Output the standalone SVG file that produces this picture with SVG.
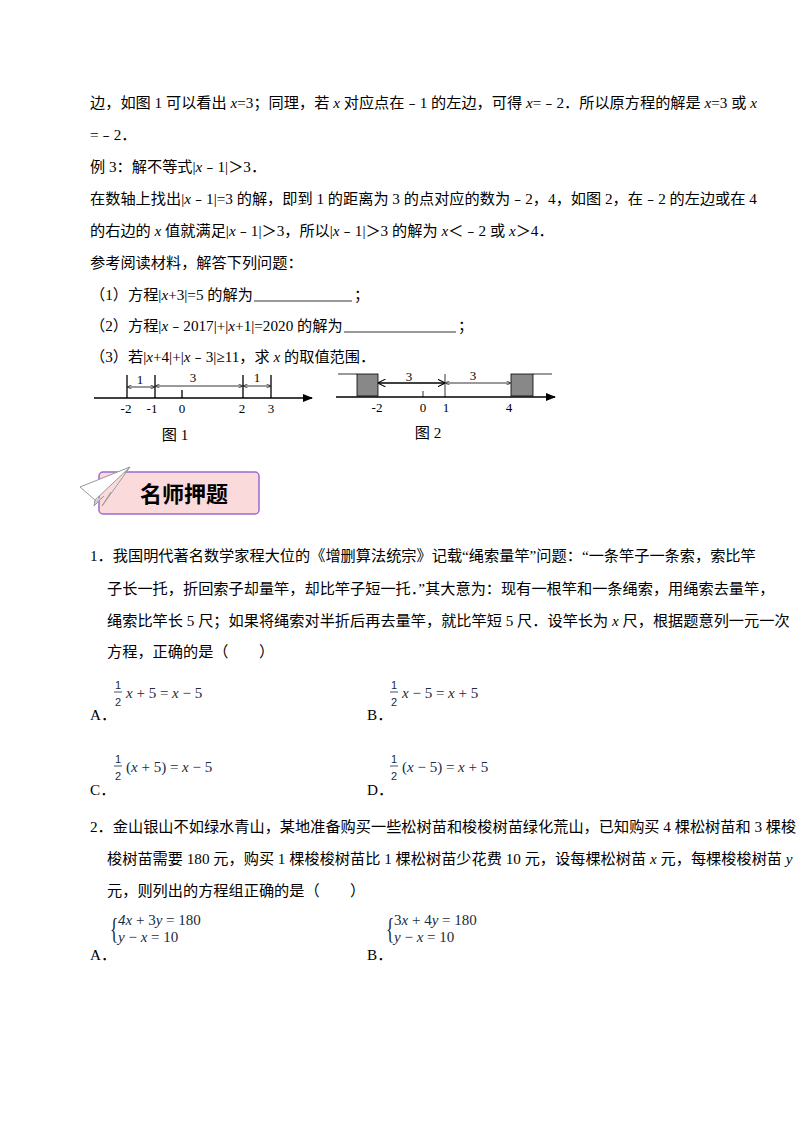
<svg xmlns="http://www.w3.org/2000/svg" width="800" height="1132" viewBox="0 0 800 1132">
<style>
text{font-family:"Liberation Serif","Noto Sans CJK SC",serif;font-size:15.2px;fill:#000}
.f{font-family:"Liberation Serif",serif;font-size:15px;fill:#1a2a40}
.fs{font-size:11px;fill:#1a2a40;font-family:"Liberation Sans",sans-serif;text-anchor:middle}
.ln{stroke:#000;stroke-width:1.3;fill:none}
.th{stroke:#000;stroke-width:0.8;fill:none}
.nl{font-size:13px;text-anchor:middle}
</style>
<defs>
<marker id="ah" markerWidth="6" markerHeight="6" refX="5" refY="3" orient="auto-start-reverse"><path d="M0,0 L6,3 L0,6" fill="none" stroke="#000" stroke-width="0.8"/></marker>
<marker id="big" markerWidth="10" markerHeight="8" refX="9" refY="4" orient="auto" markerUnits="userSpaceOnUse"><path d="M0,0 L10,4 L0,8 z" fill="#000"/></marker>
</defs>
<rect width="800" height="1132" fill="#fff"/>
<text x="90" y="108">边，如图 1 可以看出 <tspan font-style="italic">x</tspan>=3；同理，若 <tspan font-style="italic">x</tspan> 对应点在﹣1 的左边，可得 <tspan font-style="italic">x</tspan>=﹣2．所以原方程的解是 <tspan font-style="italic">x</tspan>=3 或 <tspan font-style="italic">x</tspan></text>
<text x="90" y="140">=﹣2．</text>
<text x="90" y="172">例 3：解不等式|<tspan font-style="italic">x</tspan>﹣1|＞3．</text>
<text x="90" y="204">在数轴上找出|<tspan font-style="italic">x</tspan>﹣1|=3 的解，即到 1 的距离为 3 的点对应的数为﹣2，4，如图 2，在﹣2 的左边或在 4</text>
<text x="90" y="236">的右边的 <tspan font-style="italic">x</tspan> 值就满足|<tspan font-style="italic">x</tspan>﹣1|＞3，所以|<tspan font-style="italic">x</tspan>﹣1|＞3 的解为 <tspan font-style="italic">x</tspan>＜﹣2 或 <tspan font-style="italic">x</tspan>＞4．</text>
<text x="90" y="268">参考阅读材料，解答下列问题：</text>
<text x="90" y="300">（1）方程|<tspan font-style="italic">x</tspan>+3|=5 的解为</text>
<line x1="254" y1="301" x2="352" y2="301" class="th"/>
<text x="354" y="300">；</text>
<text x="90" y="331">（2）方程|<tspan font-style="italic">x</tspan>﹣2017|+|<tspan font-style="italic">x</tspan>+1|=2020 的解为</text>
<line x1="344" y1="332" x2="456" y2="332" class="th"/>
<text x="458" y="331">；</text>
<text x="90" y="362">（3）若|<tspan font-style="italic">x</tspan>+4|+|<tspan font-style="italic">x</tspan>﹣3|≥11，求 <tspan font-style="italic">x</tspan> 的取值范围．</text>

<g id="fig1">
<line x1="94" y1="398" x2="312" y2="398" class="ln" marker-end="url(#big)"/>
<path d="M127,375V398M155,375V398M243,375V398M271,375V398M182,390V398" class="ln"/>
<line x1="128" y1="387" x2="154" y2="387" class="th" marker-start="url(#ah)" marker-end="url(#ah)"/>
<line x1="156" y1="386" x2="242" y2="386" class="th" marker-start="url(#ah)" marker-end="url(#ah)"/>
<line x1="244" y1="386" x2="270" y2="386" class="th" marker-start="url(#ah)" marker-end="url(#ah)"/>
<text x="140" y="384" class="nl">1</text><text x="193" y="382" class="nl">3</text><text x="257" y="382" class="nl">1</text>
<text x="126" y="413" class="nl">-2</text><text x="152" y="413" class="nl">-1</text><text x="182" y="413" class="nl">0</text><text x="242" y="413" class="nl">2</text><text x="271" y="413" class="nl">3</text>
<text x="175" y="440" text-anchor="middle">图 1</text>
</g>
<g id="fig2">
<line x1="336" y1="397" x2="555" y2="397" class="ln" marker-end="url(#big)"/>
<path d="M338,374H357M533,374H552" class="th"/>
<rect x="357" y="374" width="21" height="22" fill="#888" stroke="#000" stroke-width="0.8"/>
<rect x="511" y="374" width="22" height="22" fill="#888" stroke="#000" stroke-width="0.8"/>
<path d="M445,374V397M423,391V397" class="th"/>
<line x1="379" y1="383" x2="444" y2="383" class="ln" stroke-width="1" marker-start="url(#ah)" marker-end="url(#ah)"/>
<line x1="446" y1="383" x2="510" y2="383" class="th" marker-start="url(#ah)" marker-end="url(#ah)"/>
<text x="409" y="381" class="nl">3</text><text x="473" y="380" class="nl">3</text>
<text x="377" y="412" class="nl">-2</text><text x="423" y="412" class="nl">0</text><text x="446" y="412" class="nl">1</text><text x="509" y="412" class="nl">4</text>
<text x="428" y="438" text-anchor="middle">图 2</text>
</g>
<g id="banner">
<rect x="99" y="472" width="160" height="42" rx="4" fill="#fadada" stroke="#9a6bd0" stroke-width="1.5"/>
<path d="M80,487 L130,467 L95,500 Z" fill="#fff" stroke="#999" stroke-width="1"/>
<path d="M95,500 L94,506 L104,496" fill="#ccc" stroke="#999" stroke-width="1"/>
<path d="M130,467 L102,506 L111,492" fill="#f2f2f2" stroke="#999" stroke-width="1"/>
<text x="140" y="502" style="font-family:'Noto Sans CJK SC',sans-serif;font-size:22px;font-weight:bold">名师押题</text>
</g>

<text x="90" y="561">1．我国明代著名数学家程大位的《增删算法统宗》记载“绳索量竿”问题：“一条竿子一条索，索比竿</text>
<text x="107" y="594">子长一托，折回索子却量竿，却比竿子短一托．”其大意为：现有一根竿和一条绳索，用绳索去量竿，</text>
<text x="107" y="626">绳索比竿长 5 尺；如果将绳索对半折后再去量竿，就比竿短 5 尺．设竿长为 <tspan font-style="italic">x</tspan> 尺，根据题意列一元一次</text>
<text x="107" y="657">方程，正确的是（　　）</text>

<g id="opts1">
<text x="118" y="689" class="fs">1</text><line x1="114" y1="692" x2="122" y2="692" stroke="#1a2a40" stroke-width="0.8"/><text x="118" y="706" class="fs">2</text>
<text x="126" y="698" class="f"><tspan font-style="italic">x</tspan> + 5 = <tspan font-style="italic">x</tspan> − 5</text>
<text x="90" y="720">A．</text>
<text x="394" y="689" class="fs">1</text><line x1="390" y1="692" x2="398" y2="692" stroke="#1a2a40" stroke-width="0.8"/><text x="394" y="706" class="fs">2</text>
<text x="402" y="698" class="f"><tspan font-style="italic">x</tspan> − 5 = <tspan font-style="italic">x</tspan> + 5</text>
<text x="367" y="720">B．</text>
<text x="118" y="763" class="fs">1</text><line x1="114" y1="766" x2="122" y2="766" stroke="#1a2a40" stroke-width="0.8"/><text x="118" y="780" class="fs">2</text>
<text x="126" y="772" class="f">(<tspan font-style="italic">x</tspan> + 5) = <tspan font-style="italic">x</tspan> − 5</text>
<text x="90" y="795">C．</text>
<text x="394" y="763" class="fs">1</text><line x1="390" y1="766" x2="398" y2="766" stroke="#1a2a40" stroke-width="0.8"/><text x="394" y="780" class="fs">2</text>
<text x="402" y="772" class="f">(<tspan font-style="italic">x</tspan> − 5) = <tspan font-style="italic">x</tspan> + 5</text>
<text x="367" y="795">D．</text>
</g>

<text x="90" y="832">2．金山银山不如绿水青山，某地准备购买一些松树苗和梭梭树苗绿化荒山，已知购买 4 棵松树苗和 3 棵梭</text>
<text x="107" y="864">梭树苗需要 180 元，购买 1 棵梭梭树苗比 1 棵松树苗少花费 10 元，设每棵松树苗 <tspan font-style="italic">x</tspan> 元，每棵梭梭树苗 <tspan font-style="italic">y</tspan></text>
<text x="107" y="896">元，则列出的方程组正确的是（　　）</text>
<g id="opts2">
<text x="110" y="938" style="font-family:'Liberation Serif',serif;font-size:30px;fill:#1a2a40" transform="scale(0.6,1) translate(73,0)">{</text>
<text x="118" y="925" class="f"><tspan font-style="italic">4x</tspan> + 3<tspan font-style="italic">y</tspan> = 180</text>
<text x="118" y="942" class="f"><tspan font-style="italic">y</tspan> − <tspan font-style="italic">x</tspan> = 10</text>
<text x="90" y="960">A．</text>
<text x="386" y="938" style="font-family:'Liberation Serif',serif;font-size:30px;fill:#1a2a40" transform="scale(0.6,1) translate(257,0)">{</text>
<text x="394" y="925" class="f">3<tspan font-style="italic">x</tspan> + 4<tspan font-style="italic">y</tspan> = 180</text>
<text x="394" y="942" class="f"><tspan font-style="italic">y</tspan> − <tspan font-style="italic">x</tspan> = 10</text>
<text x="367" y="960">B．</text>
</g>
</svg>
